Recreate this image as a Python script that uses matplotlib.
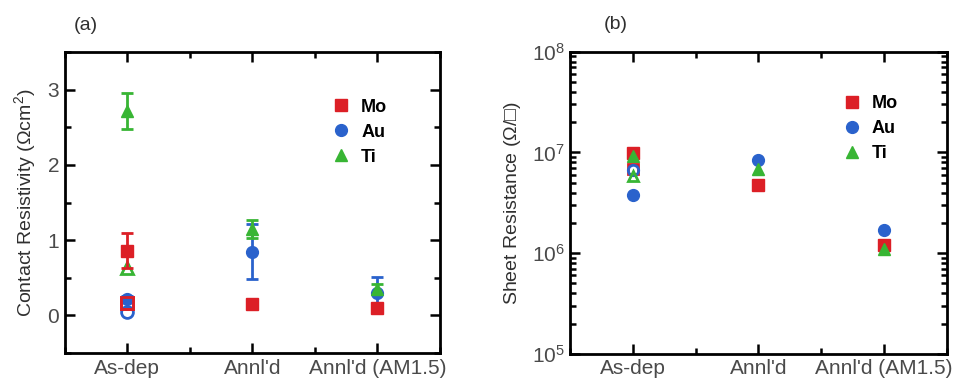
import matplotlib
matplotlib.use('Agg')
import matplotlib.pyplot as plt
from matplotlib.ticker import MultipleLocator, LogLocator, NullFormatter
from matplotlib.lines import Line2D
import numpy as np

plt.rcParams['font.family'] = ['Liberation Sans', 'DejaVu Sans']
plt.rcParams['mathtext.fontset'] = 'custom'
plt.rcParams['mathtext.rm'] = 'Liberation Sans'

RED = '#dc1f26'
BLUE = '#2a62cc'
GREEN = '#38b534'
GREY = '#4a4a4a'

categories = ["As-dep", "Annl'd", "Annl'd (AM1.5)"]
metals = ['Mo', 'Au', 'Ti']

# (a) contact resistivity, filled symbols + error bars
rho_mo = [0.86, 0.15, 0.10]
rho_mo_err = [0.23, 0.05, 0.02]
rho_au = [0.22, 0.85, 0.30]
rho_au_err = [0.04, 0.36, 0.21]
rho_ti = [2.72, 1.15, 0.35]
rho_ti_err = [0.24, 0.12, 0.07]
# second as-dep sample, open symbols
rho_open = [0.17, 0.05, 0.63]   # Mo, Au, Ti

# (b) sheet resistance
sheet_mo = [9.8e6, 4.8e6, 1.2e6]
sheet_au = [3.8e6, 8.4e6, 1.69e6]
sheet_ti = [9.3e6, 6.9e6, 1.1e6]
sheet_open = [6.9e6, 6.7e6, 5.9e6]  # Mo, Au, Ti

colors = [RED, BLUE, GREEN]
marks = ['s', 'o', '^']
sizes = [8, 8.5, 8.5]

fig = plt.figure(figsize=(9.54, 3.78), dpi=100)
axa = fig.add_axes([0.068, 0.066, 0.393, 0.796])
axb = fig.add_axes([0.5975, 0.064, 0.395, 0.799])

x = np.arange(len(categories))


def style(ax):
    for s in ax.spines.values():
        s.set_linewidth(2)
    ax.tick_params(which='both', direction='in', top=True, right=True,
                   colors='black', labelcolor=GREY, labelsize=15, width=1.8, pad=4)
    ax.tick_params(which='major', length=7)
    ax.tick_params(which='minor', length=4)
    ax.set_xlim(-0.5, 2.5)
    ax.set_xticks(x)
    ax.set_xticklabels(categories)
    ax.xaxis.set_minor_locator(MultipleLocator(0.5))


def legend(ax, anchor):
    hs = [Line2D([], [], ls='none', marker=marks[i], color=colors[i], ms=sizes[i]) for i in range(3)]
    ax.legend(hs, metals, frameon=False, loc='upper left', bbox_to_anchor=anchor,
              handlelength=1.0, handletextpad=0.6, labelspacing=0.45,
              prop={'weight': 'bold', 'size': 13})


# ---- panel (a)
style(axa)
vals = [rho_mo, rho_au, rho_ti]
errs = [rho_mo_err, rho_au_err, rho_ti_err]
order = [1, 0, 2]
for i in [1, 2, 0]:
    axa.plot(0, rho_open[i], marks[i], ms=sizes[i], mfc='none', mec=colors[i], mew=2, zorder=3)
for i in order:
    axa.errorbar(x, vals[i], yerr=errs[i], fmt=marks[i], color=colors[i], ms=sizes[i],
                 elinewidth=2, capsize=4, capthick=2, zorder=4)
# Mo open square drawn over the Au point
axa.plot(0, rho_open[0], 's', ms=8, mfc='none', mec=RED, mew=2, zorder=5)

axa.set_ylim(-0.5, 3.5)
axa.set_yticks([0, 1, 2, 3])
axa.yaxis.set_minor_locator(MultipleLocator(0.5))
axa.set_ylabel('Contact Resistivity ($\\Omega$cm$^2$)', fontsize=14, color='#303030', labelpad=6)
legend(axa, (0.67, 0.90))
axa.text(0.025, 1.075, '(a)', transform=axa.transAxes, fontsize=14, color='#303030')

# ---- panel (b)
style(axb)
axb.set_yscale('log')
svals = [sheet_mo, sheet_au, sheet_ti]
for i in order:
    axb.plot(x, svals[i], marks[i], color=colors[i], ms=sizes[i], zorder=4)
for i in range(3):
    axb.plot(0, sheet_open[i], marks[i], ms=sizes[i] - 1, mfc='none', mec=colors[i], mew=2, zorder=5)
axb.set_ylim(1e5, 1e8)
axb.yaxis.set_major_locator(LogLocator(base=10, numticks=10))
axb.yaxis.set_minor_locator(LogLocator(base=10, subs=np.arange(2, 10), numticks=10))
axb.yaxis.set_minor_formatter(NullFormatter())
axb.set_ylabel('Sheet Resistance ($\\Omega$/\u25a1)', fontsize=14, color='#303030', labelpad=6)
legend(axb, (0.68, 0.91))
axb.text(0.09, 1.075, '(b)', transform=axb.transAxes, fontsize=14, color='#303030')

fig.savefig('out.png', dpi=100, facecolor='white')
